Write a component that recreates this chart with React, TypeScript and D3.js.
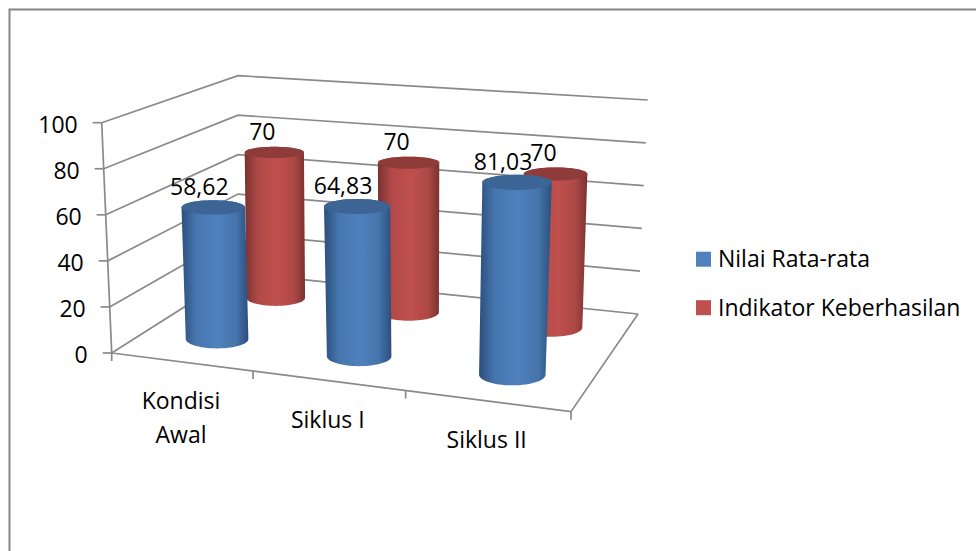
import React from "react";
import * as d3 from "d3";

const categories = [["Kondisi", "Awal"], ["Siklus I"], ["Siklus II"]];
const seriesNames = ["Nilai Rata-rata", "Indikator Keberhasilan"];
const nilaiRata = [58.62, 64.83, 81.03];
const indikator = [70, 70, 70];
const valueLabels = [
  ["58,62", "64,83", "81,03"],
  ["70", "70", "70"],
];
const colors = ["#4F81BD", "#C0504D"];
const edgeColors = ["#2b4f7c", "#7a3230"];
const capColors = ["#3c6494", "#8e3b39"];

type Pt = [number, number];

// unit square -> quad, corners order: (0,0) (1,0) (1,1) (0,1)
const homography = (q: Pt[]) => {
  const [[x0, y0], [x1, y1], [x2, y2], [x3, y3]] = q;
  const dx1 = x1 - x2, dx2 = x3 - x2, sx = x0 - x1 + x2 - x3;
  const dy1 = y1 - y2, dy2 = y3 - y2, sy = y0 - y1 + y2 - y3;
  const det = dx1 * dy2 - dx2 * dy1;
  const g = (sx * dy2 - dx2 * sy) / det;
  const h = (dx1 * sy - sx * dy1) / det;
  const a = x1 - x0 + g * x1, b = x3 - x0 + h * x3;
  const d = y1 - y0 + g * y1, e = y3 - y0 + h * y3;
  return (u: number, v: number): Pt => {
    const w = g * u + h * v + 1;
    return [(a * u + b * v + x0) / w, (d * u + e * v + y0) / w];
  };
};

// the plot box: floor and the plane at value 100
const floor = homography([[111.7, 353], [571, 411.7], [638, 314], [238, 273]]);
const ceil = homography([[101.7, 122.7], [584, 161.7], [647.7, 100], [238, 75.7]]);

const y = d3.scaleLinear().domain([0, 100]).range([0, 1]);
const x = d3.scaleBand<number>().domain([0, 1, 2]).range([0, 1]);
const z = d3.scaleBand<number>().domain([0, 1]).range([0, 1]);

const project = (u: number, d: number, value: number): Pt => {
  const t = y(value);
  const a = floor(u, d);
  const b = ceil(u, d);
  return [a[0] + (b[0] - a[0]) * t, a[1] + (b[1] - a[1]) * t];
};

const radiusU = 0.073;
const radiusD = 0.105;
const barShift = 0.007; // cylinders sit a touch right of the band centre
const angles = d3.range(0, 360, 6).map((a) => (a * Math.PI) / 180);
const closed = d3.line().curve(d3.curveLinearClosed);

// the cylinder ends are level ellipses on screen
const ring = (u: number, d: number, value: number): Pt[] => {
  const c = project(u, d, value);
  // width grows less with perspective than the floor does
  const um = 0.5 + (u - 0.5) * 0.4;
  const rx = (project(um + radiusU, d, value)[0] - project(um - radiusU, d, value)[0]) / 2;
  const ry = (project(u, d - radiusD, value)[1] - project(u, d + radiusD, value)[1]) / 2;
  return angles.map((a): Pt => [c[0] + rx * Math.cos(a), c[1] + ry * Math.sin(a)]);
};

const FONT = "'Open Sans', Lato, sans-serif";
const FONT_SIZE = 23;
const GRID = "#8a8a8a";

const pts = (p: Pt[]) => p.map((q) => q.join(",")).join(" ");
const barU = (c: number) => x(c)! + x.bandwidth() / 2 + barShift;
const barD = (s: number) => z(s)! + z.bandwidth() / 2;

export default function App() {
  const ticks = y.ticks(5);
  const series = [indikator, nilaiRata];
  const seriesIdx = [1, 0]; // back row first

  return (
    <svg width={976} height={551} style={{ position: "absolute", left: 0, top: 0 }} fontFamily={FONT}>
      <rect width={976} height={551} fill="#fff" />
      <path d="M9.5,551V9.5H976" fill="none" stroke="#868686" strokeWidth={2} />

      <defs>
        {seriesIdx.map((s, i) =>
          series[i].map((v, c) => {
            const u = barU(c);
            const d = barD(s);
            const ext = d3.extent(ring(u, d, v).concat(ring(u, d, 0)), (p) => p[0]) as [number, number];
            return (
              <linearGradient key={`${s}-${c}`} id={`g${s}-${c}`} gradientUnits="userSpaceOnUse" x1={ext[0]} x2={ext[1]} y1={0} y2={0}>
                <stop offset="0" stopColor={edgeColors[s]} />
                <stop offset="0.22" stopColor={d3.interpolateRgb(edgeColors[s], colors[s])(0.78)} />
                <stop offset="0.55" stopColor={colors[s]} />
                <stop offset="0.82" stopColor={d3.interpolateRgb(edgeColors[s], colors[s])(0.72)} />
                <stop offset="1" stopColor={edgeColors[s]} />
              </linearGradient>
            );
          })
        )}
      </defs>

      {/* walls */}
      <g fill="none" stroke={GRID} strokeWidth={1.7}>
        {ticks.map((t) => (
          <polyline key={t} points={pts([project(0, 0, t), project(0, 1, t), project(1, 1, t)])} />
        ))}
        <polyline points={pts([project(0, 0, 0), project(1, 0, 0), project(1, 1, 0)])} />
        <polyline points={pts([project(0, 0, 0), project(0, 0, 100)])} />
        {ticks.map((t) => {
          const p = project(0, 0, t);
          return <line key={t} x1={p[0]} y1={p[1]} x2={p[0] - 9} y2={p[1]} />;
        })}
        {[0, 1, 2, 3].map((c) => {
          const p = project(c === 3 ? 1 : x(c)!, 0, 0);
          return <line key={c} x1={p[0]} y1={p[1]} x2={p[0]} y2={p[1] + 8} />;
        })}
      </g>

      {/* value axis labels */}
      <g fontSize={FONT_SIZE} fill="#000" textAnchor="end">
        {ticks.map((t) => {
          const p = project(0, 0, t);
          return (
            <text key={t} x={p[0] - 24} y={p[1] + 2} dy="0.36em">
              {t}
            </text>
          );
        })}
      </g>

      {/* cylinders, back row first */}
      {seriesIdx.map((s, i) =>
        series[i].map((v, c) => {
          const u = barU(c);
          const d = barD(s);
          const top = ring(u, d, v);
          const hull = d3.polygonHull(top.concat(ring(u, d, 0)))!;
          return (
            <g key={`${s}-${c}`}>
              <path d={closed(hull) ?? ""} fill={`url(#g${s}-${c})`} />
              <path d={closed(top) ?? ""} fill={capColors[s]} />
            </g>
          );
        })
      )}

      {/* data labels */}
      <g fontSize={FONT_SIZE} fill="#000" textAnchor="middle">
        {seriesIdx.map((s, i) =>
          series[i].map((v, c) => {
            const p = project(barU(c), barD(s), v);
            return (
              <text key={`${s}-${c}`} x={p[0] - (s === 0 ? 14 : 12)} y={p[1] - 21} dy="0.36em">
                {valueLabels[s][c]}
              </text>
            );
          })
        )}
      </g>

      {/* category labels */}
      <g fontSize={FONT_SIZE} fill="#000" textAnchor="middle">
        {categories.map((lines, c) => {
          const p = project(x(c)! + x.bandwidth() / 2, 0, 0);
          return lines.map((l, k) => (
            <text key={l} x={p[0]} y={p[1] + 39 + k * 34} dy="0.36em">
              {l}
            </text>
          ));
        })}
      </g>

      {/* legend */}
      <g fontSize={FONT_SIZE} fill="#000">
        {seriesNames.map((n, i) => (
          <g key={n} transform={`translate(696,${251.7 + i * 48.5})`}>
            <rect width={15} height={15} fill={colors[i]} />
            <text x={22} y={7.5} dy="0.36em">
              {n}
            </text>
          </g>
        ))}
      </g>
    </svg>
  );
}
